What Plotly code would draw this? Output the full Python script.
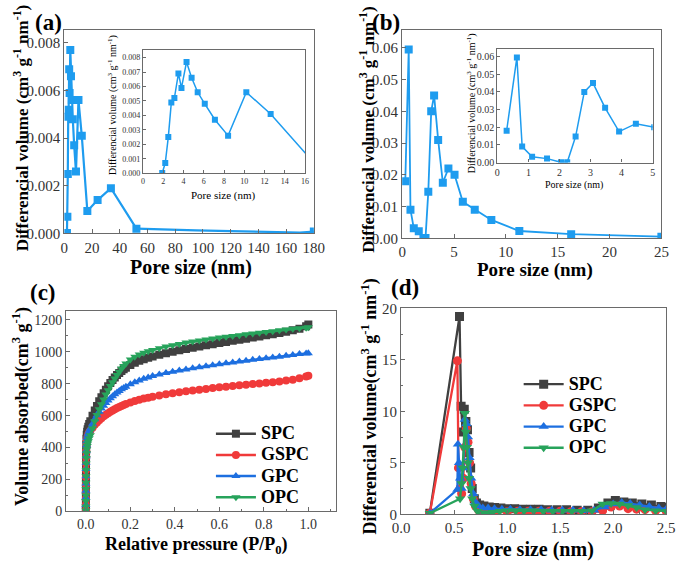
import plotly.graph_objects as go

# ---- panel (a): PSD, main + inset (pore size nm, differential volume)
a_size = [1.9, 2.2, 2.5, 2.8, 3.1, 3.5, 3.8, 4.3, 4.8, 5.4, 6.1, 7.1, 8.4, 10.2, 12.6, 16.6, 24.0, 33.6, 52.0]
a_vol = [0.00002, 0.0007, 0.0025, 0.0049, 0.0052, 0.0069, 0.0059, 0.0077, 0.0066, 0.0056, 0.0048,
         0.0037, 0.0026, 0.0056, 0.0041, 0.00094, 0.0014, 0.0019, 0.0002]
a_tail_size = [52.0, 70.0, 95.0, 120.0, 150.0, 170.0, 180.0]
a_tail_vol = [0.0002, 0.00016, 0.00013, 0.0001, 0.00007, 0.00004, 0.00008]

# ---- panel (b)
b_size = [0.3, 0.63, 0.8, 1.12, 1.6, 2.05, 2.25, 2.52, 2.8, 3.08, 3.47, 3.92, 4.46, 5.05,
          5.85, 7.0, 8.6, 11.3, 16.3, 25.0]
b_vol = [0.018, 0.0595, 0.009, 0.0032, 0.0022, 0.0001, 0.0001, 0.0147, 0.040, 0.045, 0.031,
         0.0175, 0.022, 0.020, 0.0115, 0.009, 0.0058, 0.0023, 0.0013, 0.0005]

# ---- panel (c): N2 isotherms
p_rel = [0.00001, 0.00005, 0.0001, 0.0002, 0.0003, 0.0005, 0.0007, 0.001, 0.0015, 0.002, 0.003,
         0.004, 0.006, 0.008, 0.011, 0.015, 0.02, 0.03, 0.04, 0.05, 0.06, 0.07, 0.08, 0.09, 0.10,
         0.11, 0.12, 0.13, 0.14, 0.15, 0.16, 0.17, 0.18, 0.20, 0.22, 0.24, 0.26, 0.28, 0.30, 0.33,
         0.36, 0.39, 0.42, 0.45, 0.48, 0.51, 0.54, 0.57, 0.60, 0.63, 0.66, 0.69, 0.72, 0.75, 0.78,
         0.81, 0.84, 0.87, 0.90, 0.93, 0.96, 0.99, 1.00]
spc_ads = [5, 45, 90, 140, 190, 240, 290, 340, 385, 420, 455, 480, 500, 515, 530, 548,
           565, 600, 632, 660, 690, 715, 740, 762, 785, 805, 824, 840, 855, 868, 880, 891, 901,
           918, 932, 944, 954, 963, 971, 982, 992, 1001, 1010, 1018, 1026, 1034, 1041, 1048, 1055,
           1062, 1069, 1076, 1083, 1090, 1097, 1104, 1111, 1118, 1126, 1135, 1145, 1160, 1172]
gspc_ads = [5, 40, 80, 125, 170, 215, 260, 300, 340, 375, 410, 435, 455, 470, 483, 495,
            505, 525, 543, 558, 572, 584, 596, 606, 616, 625, 633, 641, 648, 655, 661, 667, 673,
            683, 692, 700, 707, 713, 719, 727, 734, 741, 747, 753, 758, 763, 768, 773, 778,
            782, 786, 790, 794, 798, 802, 806, 810, 815, 820, 826, 834, 845, 850]
gpc_ads = [5, 40, 85, 130, 175, 220, 265, 305, 345, 380, 415, 440, 460, 475, 490, 505,
           520, 550, 578, 603, 625, 645, 663, 680, 695, 709, 722, 734, 745, 755, 765, 774, 782,
           797, 810, 821, 831, 840, 848, 858, 867, 875, 883, 890, 897, 904, 910, 916, 922,
           928, 934, 940, 945, 950, 955, 960, 965, 970, 975, 980, 986, 990, 992]
opc_ads = [5, 30, 65, 100, 140, 180, 220, 260, 300, 335, 365, 390, 410, 425, 440, 458,
           478, 520, 565, 605, 640, 672, 702, 732, 760, 786, 810, 833, 855, 876, 895, 912, 927,
           952, 970, 984, 995, 1004, 1012, 1023, 1033, 1042, 1050, 1058, 1065, 1072, 1078, 1084,
           1090, 1095, 1100, 1105, 1110, 1115, 1120, 1125, 1130, 1135, 1140, 1145, 1148, 1152, 1155]

# ---- panel (d): micropore PSD
spc_d_x = [0.27, 0.55, 0.565, 0.58, 0.595, 0.61, 0.625, 0.64, 0.655, 0.67, 0.69, 0.71, 0.74, 0.78,
           0.83, 0.88, 0.94, 1.0, 1.07, 1.14, 1.22, 1.3, 1.38, 1.47, 1.56, 1.66, 1.76, 1.86, 1.95,
           2.02, 2.1, 2.18, 2.27, 2.36, 2.45, 2.5]
spc_d_y = [0.1, 19.2, 10.5, 8.0, 10.2, 9.0, 8.2, 6.0, 4.5, 2.5, 1.5, 1.1, 0.9, 0.8, 0.7, 0.65, 0.6,
           0.55, 0.55, 0.5, 0.5, 0.5, 0.45, 0.45, 0.45, 0.4, 0.4, 0.6, 1.1, 1.35, 1.2, 1.1, 1.0,
           0.9, 0.75, 0.65]
gspc_d_x = [0.27, 0.53, 0.54, 0.555, 0.57, 0.585, 0.6, 0.615, 0.63, 0.645, 0.66, 0.68, 0.7, 0.73,
            0.77, 0.82, 0.9, 1.0, 1.1, 1.2, 1.3, 1.4, 1.5, 1.6, 1.7, 1.8, 1.9, 1.98, 2.06, 2.14,
            2.22, 2.3, 2.4, 2.5]
gspc_d_y = [0.1, 14.9, 4.5, 2.5, 2.0, 3.5, 6.5, 8.3, 7.0, 5.0, 3.0, 1.5, 0.8, 0.4, 0.2, 0.15, 0.2,
            0.25, 0.3, 0.3, 0.3, 0.3, 0.3, 0.25, 0.25, 0.25, 0.35, 0.7, 0.8, 0.55, 0.5, 0.45,
            0.35, 0.3]
gpc_d_x = [0.27, 0.53, 0.535, 0.545, 0.555, 0.57, 0.585, 0.6, 0.615, 0.63, 0.645, 0.66, 0.68, 0.7,
           0.73, 0.77, 0.82, 0.88, 0.95, 1.03, 1.12, 1.22, 1.32, 1.42, 1.52, 1.62, 1.72, 1.82,
           1.92, 2.0, 2.08, 2.16, 2.25, 2.34, 2.43, 2.5]
gpc_d_y = [0.1, 2.4, 6.8, 5.0, 3.5, 2.5, 4.5, 9.2, 8.8, 7.5, 5.5, 3.5, 2.0, 1.2, 0.8, 0.6, 0.6,
           0.55, 0.5, 0.5, 0.45, 0.45, 0.45, 0.4, 0.4, 0.4, 0.35, 0.4, 0.7, 1.0, 1.15, 1.05, 0.9,
           0.75, 0.6, 0.5]
opc_d_x = [0.27, 0.555, 0.57, 0.58, 0.59, 0.6, 0.61, 0.62, 0.63, 0.64, 0.655, 0.67, 0.69, 0.72,
           0.76, 0.8, 0.86, 0.93, 1.0, 1.08, 1.16, 1.25, 1.34, 1.43, 1.52, 1.61, 1.7, 1.8, 1.9,
           1.98, 2.06, 2.14, 2.22, 2.3, 2.4, 2.5]
opc_d_y = [0.1, 1.5, 3.0, 4.5, 6.5, 9.8, 8.0, 6.5, 5.0, 3.5, 2.5, 1.5, 0.8, 0.3, 0.15, 0.1, 0.2,
           0.3, 0.35, 0.35, 0.35, 0.35, 0.3, 0.3, 0.3, 0.3, 0.3, 0.35, 1.0, 1.05, 1.0, 0.85, 0.65,
           0.45, 0.35, 0.3]

SERIF = "Liberation Serif, Times New Roman, serif"
BLUE = "#1e9cef"
colors = {"SPC": "#404040", "GSPC": "#f03a3a", "GPC": "#1d6fe0", "OPC": "#27a35b"}
symbols = {"SPC": "square", "GSPC": "circle", "GPC": "triangle-up", "OPC": "triangle-down"}

W, H = 685, 567


def px_x(a, b):
    return [a / W, b / W]


def px_y(top, bottom):
    return [1 - bottom / H, 1 - top / H]


def axis(domain, rng, dtick, anchor, size, fmt=None, minor=None, ticklen=4):
    d = dict(
        domain=domain, range=rng, dtick=dtick, tick0=0, anchor=anchor,
        showline=True, mirror=True, linecolor="#6a6a6a", linewidth=1.3,
        ticks="inside", ticklen=ticklen, tickcolor="#6a6a6a",
        showgrid=False, zeroline=False,
        tickfont=dict(family=SERIF, size=size, color="#333333"),
    )
    if fmt:
        d["tickformat"] = fmt
    if minor:
        d["minor"] = dict(dtick=minor, ticks="inside", ticklen=ticklen - 2, tickcolor="#6a6a6a")
    return d


def legend_name(name):
    # shown at 18px, while the legend font (row height) stays smaller
    return '<span style="font-size:18px"><b>' + name + "</b></span>"


fig = go.Figure()

# (a)
fig.add_trace(go.Scatter(x=a_size, y=a_vol, mode="lines+markers", xaxis="x", yaxis="y",
                         line=dict(color=BLUE, width=2.2),
                         marker=dict(symbol="square", size=8, color=BLUE), showlegend=False))
fig.add_trace(go.Scatter(x=a_tail_size, y=a_tail_vol, mode="lines", xaxis="x", yaxis="y",
                         line=dict(color=BLUE, width=2.2), showlegend=False))
fig.add_trace(go.Scatter(x=a_tail_size[-1:], y=a_tail_vol[-1:], mode="markers", xaxis="x", yaxis="y",
                         marker=dict(symbol="square", size=8, color=BLUE), showlegend=False))
fig.add_trace(go.Scatter(x=a_size, y=a_vol, mode="lines+markers", xaxis="x2", yaxis="y2",
                         line=dict(color=BLUE, width=1.5),
                         marker=dict(symbol="square", size=6, color=BLUE), showlegend=False))

# (b)
fig.add_trace(go.Scatter(x=b_size, y=b_vol, mode="lines+markers", xaxis="x3", yaxis="y3",
                         line=dict(color=BLUE, width=1.8),
                         marker=dict(symbol="square", size=8, color=BLUE), showlegend=False))
fig.add_trace(go.Scatter(x=b_size, y=b_vol, mode="lines+markers", xaxis="x4", yaxis="y4",
                         line=dict(color=BLUE, width=1.5),
                         marker=dict(symbol="square", size=6, color=BLUE), showlegend=False))

# (c)
for name, vals in [("SPC", spc_ads), ("GSPC", gspc_ads), ("GPC", gpc_ads), ("OPC", opc_ads)]:
    fig.add_trace(go.Scatter(x=p_rel, y=vals, mode="lines+markers", xaxis="x5", yaxis="y5",
                             name=legend_name(name), legend="legend",
                             line=dict(color=colors[name], width=2.5),
                             marker=dict(symbol=symbols[name], size=8, color=colors[name])))

# (d)
for name, xs, ys in [("SPC", spc_d_x, spc_d_y), ("GSPC", gspc_d_x, gspc_d_y),
                     ("GPC", gpc_d_x, gpc_d_y), ("OPC", opc_d_x, opc_d_y)]:
    fig.add_trace(go.Scatter(x=xs, y=ys, mode="lines+markers", xaxis="x6", yaxis="y6",
                             name=legend_name(name), legend="legend2",
                             line=dict(color=colors[name], width=2.3),
                             marker=dict(symbol=symbols[name], size=9, color=colors[name])))

legend_style = dict(xanchor="left", yanchor="top", bgcolor="rgba(0,0,0,0)",
                    font=dict(family=SERIF, size=14, color="black"), tracegroupgap=0,
                    itemwidth=40)

fig.update_layout(
    width=W, height=H,
    margin=dict(l=0, r=0, t=0, b=0),
    paper_bgcolor="white", plot_bgcolor="white",
    font=dict(family=SERIF, color="black"),
    xaxis=axis(px_x(57, 314), [0, 180], 20, "y", 15),
    yaxis=axis(px_y(23, 232), [0, 0.00853], 0.002, "x", 15, fmt=".3f"),
    xaxis2=axis(px_x(138, 305), [0, 16], 2, "y2", 8, ticklen=3),
    yaxis2=axis(px_y(43, 170), [0, 0.00854], 0.001, "x2", 8, fmt=".3f", ticklen=3),
    xaxis3=axis(px_x(405, 672), [0, 25], 5, "y3", 15),
    yaxis3=axis(px_y(23, 237), [0, 0.0655], 0.01, "x3", 15, fmt=".2f"),
    xaxis4=axis(px_x(503, 663), [0, 5], 1, "y4", 10, ticklen=3),
    yaxis4=axis(px_y(42, 159), [0, 0.0644], 0.01, "x4", 10, fmt=".2f", ticklen=3),
    xaxis5=axis(px_x(59, 337), [-0.088, 1.125], 0.2, "y5", 14, fmt=".1f", minor=0.1),
    yaxis5=axis(px_y(312, 518), [0, 1255], 200, "x5", 14, minor=100),
    xaxis6=axis(px_x(404, 677), [0, 2.5], 0.5, "y6", 15, fmt=".1f", minor=0.25),
    yaxis6=axis(px_y(309, 521), [0, 20], 5, "x6", 15, minor=2.5),
    legend=dict(x=208 / W, y=1 - 422 / H, **legend_style),
    legend2=dict(x=525 / W, y=1 - 371 / H, **legend_style),
)


def note(text, x, y, size, bold=True, angle=0):
    fig.add_annotation(text="<b>" + text + "</b>" if bold else text,
                       x=x / W, y=1 - y / H, xref="paper", yref="paper",
                       xanchor="center", yanchor="middle", showarrow=False, textangle=angle,
                       font=dict(family=SERIF, size=size, color="black"))


dv_title = "Differencial volume (cm<sup>3</sup> g<sup>-1</sup> nm<sup>-1</sup>)"

# panel labels
note("(a)", 41, 15, 23)
note("(b)", 388, 15, 23)
note("(c)", 35, 293, 23)
note("(d)", 408, 288, 23)

# axis titles
note("Pore size (nm)", 187, 267, 20)
note(dv_title, 12, 124, 17, angle=-90)
note("Pore size (nm)", 542, 270, 19)
note(dv_title, 369, 125, 17, angle=-90)
note("Relative pressure (P/P<sub>0</sub>)", 193, 553, 18)
note("Volume absorbed(cm<sup>3</sup> g<sup>-1</sup>)", 13, 410, 18, angle=-90)
note("Pore size (nm)", 540, 557, 20)
note("Differencial volume(cm<sup>3</sup> g<sup>-1</sup> nm<sup>-1</sup>)", 372, 410, 18, angle=-90)

# inset titles
note("Pore size (nm)", 220, 193, 11, bold=False)
note(dv_title, 106, 100, 10, bold=False, angle=-90)
note("Pore size (nm)", 582, 182, 10, bold=False)
note(dv_title, 476, 98, 10, bold=False, angle=-90)

# page body has a default 8px margin; drop it so the figure sits at the window corner
fig.write_html("out.html", config={"displayModeBar": False},
               post_script="document.body.style.margin='0';")
